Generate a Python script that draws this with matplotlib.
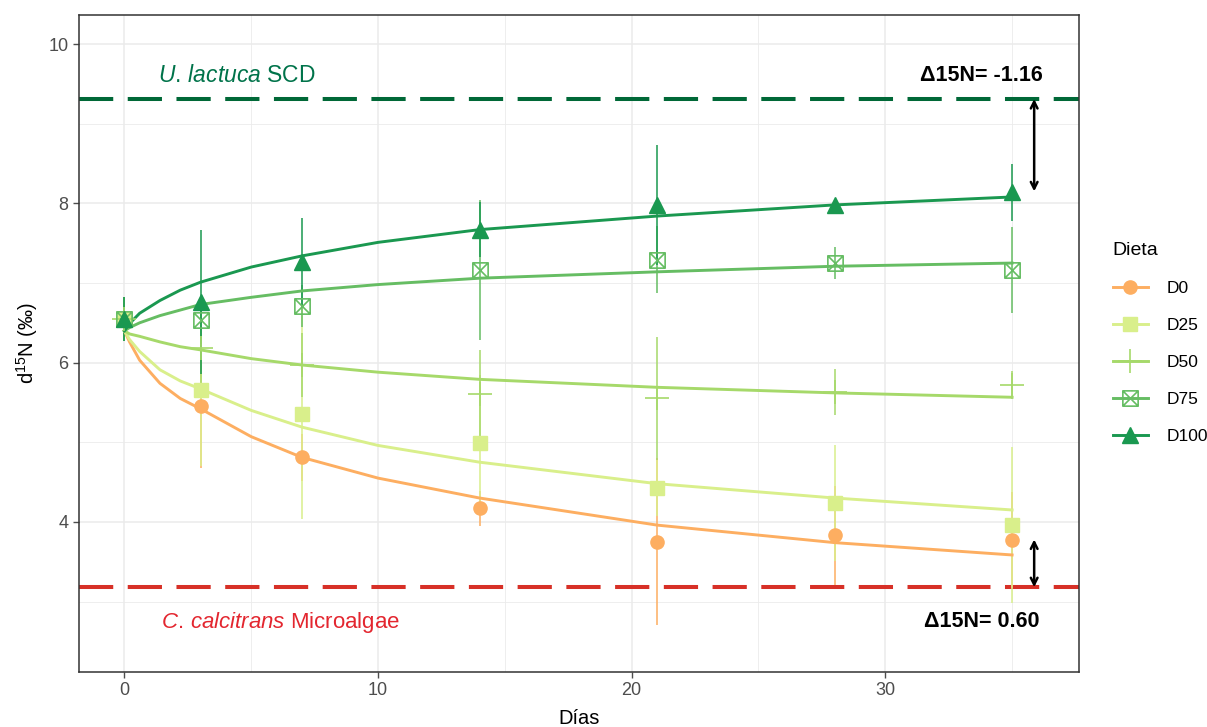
import numpy as np
import matplotlib
matplotlib.use("Agg")
import matplotlib.pyplot as plt
from matplotlib.path import Path
from matplotlib.lines import Line2D

plt.rcParams["font.family"] = ["Liberation Sans", "DejaVu Sans"]
plt.rcParams["mathtext.fontset"] = "custom"
plt.rcParams["mathtext.rm"] = "Liberation Sans"
plt.rcParams["mathtext.it"] = "Liberation Sans:italic"
plt.rcParams["mathtext.bf"] = "Liberation Sans:bold"

# sampling days and mean d15N (+/- sd) per diet
days = [0, 3, 7, 14, 21, 28, 35]
diets = ["D0", "D25", "D50", "D75", "D100"]

d0_mean = [6.55, 5.45, 4.81, 4.17, 3.75, 3.83, 3.77]
d0_sd = [0.28, 0.77, 0.30, 0.22, 1.05, 0.62, 0.60]
d25_mean = [6.55, 5.65, 5.36, 4.99, 4.43, 4.24, 3.96]
d25_sd = [0.28, 0.95, 1.32, 0.85, 0.35, 0.73, 0.98]
d50_mean = [6.55, 6.18, 5.97, 5.60, 5.55, 5.63, 5.72]
d50_sd = [0.28, 0.50, 0.40, 0.56, 0.77, 0.29, 0.18]
d75_mean = [6.55, 6.53, 6.71, 7.16, 7.29, 7.25, 7.16]
d75_sd = [0.28, 0.30, 0.26, 0.88, 0.42, 0.20, 0.54]
d100_mean = [6.55, 6.76, 7.26, 7.67, 7.98, 7.98, 8.14]
d100_sd = [0.28, 0.90, 0.55, 0.35, 0.75, 0.05, 0.36]

# fitted trend per diet, sampled along the day axis
fit_days = [0, 0.2, 0.6, 1.4, 2.2, 3, 5, 7, 10, 14, 21, 28, 35]
d0_fit = [6.40, 6.26, 6.03, 5.74, 5.55, 5.42, 5.07, 4.81, 4.55, 4.30, 3.96, 3.74, 3.585]
d25_fit = [6.40, 6.29, 6.14, 5.91, 5.77, 5.67, 5.40, 5.19, 4.96, 4.75, 4.48, 4.30, 4.15]
d50_fit = [6.40, 6.36, 6.33, 6.26, 6.20, 6.16, 6.05, 5.97, 5.88, 5.79, 5.69, 5.62, 5.565]
d75_fit = [6.40, 6.44, 6.50, 6.59, 6.66, 6.73, 6.82, 6.90, 6.98, 7.06, 7.14, 7.21, 7.25]
d100_fit = [6.40, 6.49, 6.62, 6.78, 6.91, 7.01, 7.20, 7.34, 7.51, 7.67, 7.84, 7.98, 8.08]

# source end-members and trophic shifts
ulva_sd = 9.31
chaeto_sd = 3.18
shift_ulva = -1.16
shift_chaeto = 0.60
arrow_day = 35.87

colors = ["#FDAE61", "#D9EF8B", "#A6D96A", "#66BD63", "#1A9850"]
means = [d0_mean, d25_mean, d50_mean, d75_mean, d100_mean]
sds = [d0_sd, d25_sd, d50_sd, d75_sd, d100_sd]
fits = [d0_fit, d25_fit, d50_fit, d75_fit, d100_fit]

# square with an X through it (pch 7 style)
sq_x = Path([(-1, -1), (1, -1), (1, 1), (-1, 1), (-1, -1),
             (-1, -1), (1, 1), (-1, 1), (1, -1)],
            [Path.MOVETO, Path.LINETO, Path.LINETO, Path.LINETO, Path.CLOSEPOLY,
             Path.MOVETO, Path.LINETO, Path.MOVETO, Path.LINETO])
markers = [
    dict(marker="o", ms=9.5, mfc=None),
    dict(marker="s", ms=10, mfc=None),
    dict(marker="+", ms=17, mew=1.2, mfc=None),
    dict(marker=sq_x, ms=11, mew=1.2, mfc="none"),
    dict(marker="^", ms=11, mfc=None),
]

fig = plt.figure(figsize=(12.07, 7.27), dpi=100)
ax = fig.add_axes([0.0655, 0.0757, 0.8285, 0.9036])

for x in [0, 10, 20, 30]:
    ax.axvline(x, color="#EBEBEB", lw=1.1, zorder=0)
for x in [5, 15, 25, 35]:
    ax.axvline(x, color="#EBEBEB", lw=0.6, zorder=0)
for y in [4, 6, 8, 10]:
    ax.axhline(y, color="#EBEBEB", lw=1.1, zorder=0)
for y in [3, 5, 7, 9]:
    ax.axhline(y, color="#EBEBEB", lw=0.6, zorder=0)

ax.axhline(ulva_sd, color="#006837", lw=2.9, dashes=(8.5, 3.6), zorder=2)
ax.axhline(chaeto_sd, color="#D73027", lw=2.9, dashes=(8.5, 3.6), zorder=2)

for i in range(len(diets)):
    m = np.array(means[i])
    s = np.array(sds[i])
    ax.vlines(days, m - s, m + s, color=colors[i], lw=1.1, zorder=3)

for i in range(len(diets)):
    ax.plot(fit_days, fits[i], color=colors[i], lw=2.1, zorder=4)

handles = []
for i in range(len(diets)):
    mk = dict(markers[i])
    mfc = mk.pop("mfc")
    if mfc is None:
        mfc = colors[i]
    ax.plot(days, means[i], ls="none", color=colors[i], mfc=mfc, mec=colors[i],
            zorder=5, **mk)
    handles.append(Line2D([], [], color=colors[i], lw=2.1, mfc=mfc, mec=colors[i], **mk))

for base, shift in [(ulva_sd, shift_ulva), (chaeto_sd, shift_chaeto)]:
    ax.annotate("", xy=(arrow_day, base + shift), xytext=(arrow_day, base),
                arrowprops=dict(arrowstyle="<->", color="black", lw=1.8,
                                mutation_scale=12, shrinkA=0, shrinkB=0), zorder=6)

ax.text(4.45, 9.61, r"$\it{U.\,lactuca}$ SCD", color="#00734A", fontsize=16.5,
        ha="center", va="center")
ax.text(6.15, 2.74, r"$\it{C.\,calcitrans}$ Microalgae", color="#E3262F", fontsize=16,
        ha="center", va="center")
ax.text(33.8, 9.61, f"Δ15N= {shift_ulva:.2f}", fontsize=15.5, fontweight="bold",
        ha="center", va="center")
ax.text(33.8, 2.75, f"Δ15N= {shift_chaeto:.2f}", fontsize=15.5, fontweight="bold",
        ha="center", va="center")

ax.set_xlim(-1.79, 37.64)
ax.set_ylim(2.116, 10.364)
ax.set_xticks([0, 10, 20, 30])
ax.set_yticks([4, 6, 8, 10])
ax.tick_params(labelsize=13, colors="#4D4D4D", length=4, width=1)
for sp in ax.spines.values():
    sp.set_color("#333333")
    sp.set_linewidth(1.1)

ax.set_xlabel("Días", fontsize=14.5, labelpad=7)
ax.set_ylabel(r"d$^{15}$N (‰)", fontsize=14.5, labelpad=6)

leg = fig.legend(handles, diets, title="Dieta", loc="upper left",
                 bbox_to_anchor=(0.909, 0.688), frameon=False, fontsize=12.5,
                 title_fontsize=14, handlelength=2.0, labelspacing=1.25,
                 handletextpad=1.1, alignment="left")

fig.savefig("out.png", dpi=100)
